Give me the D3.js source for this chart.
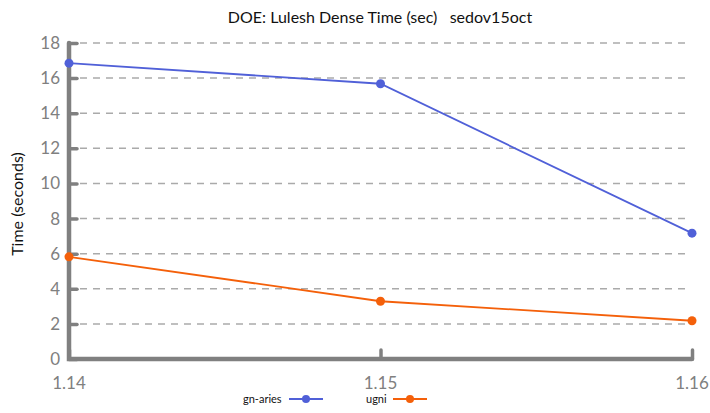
<!DOCTYPE html>
<html>
<head>
<meta charset="utf-8">
<script src="https://cdn.jsdelivr.net/npm/d3@7"></script>
<style>
body { margin: 0; background: #fff; }
svg { display: block; font-family: "Gill Sans", Lato, "Open Sans", sans-serif; }
</style>
</head>
<body>
<svg id="svg" width="710" height="413"></svg>
<script>
var versions = ["1.14", "1.15", "1.16"];
var gnAries = [16.85, 15.68, 7.17];
var ugni = [5.82, 3.29, 2.18];
var yTicks = [0, 2, 4, 6, 8, 10, 12, 14, 16, 18];

var series = [
    {name: "gn-aries", values: gnAries, color: "#5060d8"},
    {name: "ugni", values: ugni, color: "#f4600a"}
];

var svg = d3.select("#svg");
var axisColor = "#808080";

var x = d3.scalePoint().domain(versions).range([69, 692]);
var y = d3.scaleLinear().domain([0, 18]).range([359, 43]);

// title
svg.append("text")
    .attr("x", 380).attr("y", 23)
    .attr("text-anchor", "middle")
    .attr("font-size", 16).attr("fill", "#111")
    .attr("xml:space", "preserve")
    .text("DOE: Lulesh Dense Time (sec)   sedov15oct");

// y label
svg.append("text")
    .attr("transform", "translate(23,204) rotate(-90)")
    .attr("text-anchor", "middle")
    .attr("font-size", 16).attr("fill", "#111")
    .text("Time (seconds)");

// grid
svg.append("g").selectAll("line")
    .data(yTicks.filter(function(d) { return d > 0; }))
    .enter().append("line")
    .attr("x1", 80).attr("x2", 686)
    .attr("y1", function(d) { return y(d); })
    .attr("y2", function(d) { return y(d); })
    .attr("stroke", "#aaa").attr("stroke-width", 1.5)
    .attr("stroke-dasharray", "7,6");

// y axis
var yAxis = svg.append("g")
    .attr("transform", "translate(69,0)")
    .call(d3.axisRight(y).tickValues(yTicks).tickSize(8).tickFormat(""));
yAxis.select(".domain").remove();
yAxis.selectAll(".tick line")
    .attr("stroke", axisColor).attr("stroke-width", 3.5)
    .attr("stroke-linecap", "round");

svg.append("g").selectAll("text")
    .data(yTicks)
    .enter().append("text")
    .attr("x", 60)
    .attr("y", function(d) { return y(d) + 6; })
    .attr("text-anchor", "end")
    .attr("font-size", 17).attr("fill", axisColor)
    .text(function(d) { return d; });

// x axis
var xAxis = svg.append("g")
    .attr("transform", "translate(0,359)")
    .call(d3.axisTop(x).tickSize(9).tickFormat(""));
xAxis.select(".domain").remove();
xAxis.selectAll(".tick line")
    .attr("stroke", axisColor).attr("stroke-width", 3.5)
    .attr("stroke-linecap", "round");

svg.append("g").selectAll("text")
    .data(versions)
    .enter().append("text")
    .attr("x", function(d) { return x(d); })
    .attr("y", 389)
    .attr("text-anchor", "middle")
    .attr("font-size", 17).attr("fill", axisColor)
    .text(function(d) { return d; });

// axis lines
svg.append("path")
    .attr("d", "M69," + y(18) + "V" + y(0) + "H" + x("1.16"))
    .attr("fill", "none")
    .attr("stroke", axisColor).attr("stroke-width", 4.5)
    .attr("stroke-linecap", "round");

// lines
var line = d3.line()
    .x(function(d, i) { return x(versions[i]); })
    .y(function(d) { return y(d); });

series.forEach(function(s) {
    svg.append("path")
        .attr("d", line(s.values))
        .attr("fill", "none")
        .attr("stroke", s.color).attr("stroke-width", 1.8);
    svg.append("g").selectAll("circle")
        .data(s.values)
        .enter().append("circle")
        .attr("cx", function(d, i) { return x(versions[i]); })
        .attr("cy", function(d) { return y(d); })
        .attr("r", 4.5)
        .attr("fill", s.color);
});

// legend
var legendX = [243, 366];
var lineX = [289, 393];
series.forEach(function(s, i) {
    svg.append("text")
        .attr("x", legendX[i]).attr("y", 403)
        .attr("font-size", 11).attr("fill", "#111")
        .text(s.name);
    svg.append("line")
        .attr("x1", lineX[i]).attr("x2", lineX[i] + 34)
        .attr("y1", 399).attr("y2", 399)
        .attr("stroke", s.color).attr("stroke-width", 1.8);
    svg.append("circle")
        .attr("cx", lineX[i] + 17).attr("cy", 399)
        .attr("r", 4).attr("fill", s.color);
});
</script>
</body>
</html>
